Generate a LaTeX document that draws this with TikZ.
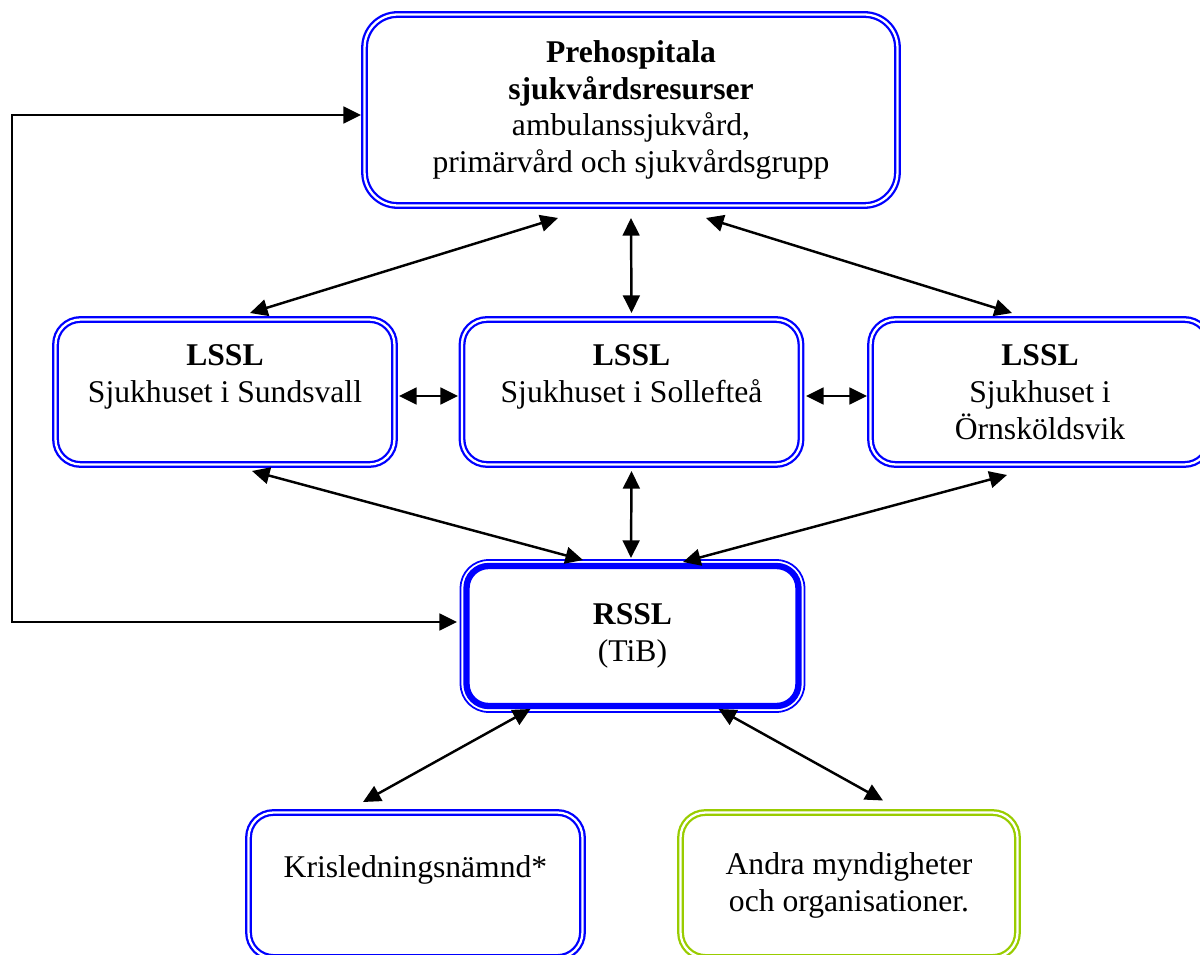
\documentclass[tikz,border=0pt]{standalone}
\usepackage{fontspec}
\setmainfont{Liberation Serif}
\usetikzlibrary{arrows.meta,calc}
\definecolor{limegreen}{RGB}{153,204,0}

\begin{document}
\begin{tikzpicture}[x=0.02cm,y=-0.02cm]
        \tikzstyle{box}=[draw=blue, double=white, line width=1.3pt, double distance=1.3pt, rounded corners=0.5cm, align=center, outer sep=0pt, font=\fontsize{18}{21}\selectfont, minimum width=6.78cm, minimum height=2.9cm]
        \tikzstyle{mainbox}=[draw=blue, line width=3.6pt, rounded corners=0.44cm, align=center, outer sep=0pt, font=\fontsize{18}{21}\selectfont, minimum width=6.64cm, minimum height=2.8cm]
        \tikzstyle{link}=[{Triangle[length=10pt,width=9.5pt]}-{Triangle[length=10pt,width=9.5pt]}, line width=1.4pt]
        \useasboundingbox (0,0) rectangle (1200,955);
        \node[box, rounded corners=0.66cm, minimum width=10.66cm, minimum height=3.82cm] (pre) at (631,110)
          {\textbf{Prehospitala}\\ \textbf{sjukvårdsresurser}\\ ambulanssjukvård,\\ primärvård och sjukvårdsgrupp};
        \node[box] (sund) at (225,392) {\textbf{LSSL}\\ Sjukhuset i Sundsvall\\ \mbox{}};
        \node[box] (soll) at (631.5,392) {\textbf{LSSL}\\ Sjukhuset i Sollefteå\\ \mbox{}};
        \node[box] (orn) at (1040,392) {\textbf{LSSL}\\ Sjukhuset i\\ Örnsköldsvik};
        \node[mainbox] (rssl) at (632.5,636) {\textbf{RSSL}\\ (TiB)};
        \draw[blue, line width=1pt, rounded corners=0.56cm] ($(rssl.north west)+(-6,-6)$) rectangle ($(rssl.south east)+(6,6)$);
        \node[box, minimum width=6.68cm] (kris) at (415.5,885) {Krisledningsnämnd*\\ \mbox{}};
        \node[box, draw=limegreen, minimum width=6.74cm] (andra) at (849,885) {Andra myndigheter\\ och organisationer.};

        \draw[link] ($(pre.south)+(-73,12.5)$) -- ($(sund.north)+(25,-6.5)$);
        \draw[link] ($(pre.south)+(0,12.5)$) -- ($(soll.north)+(0,-6.5)$);
        \draw[link] ($(pre.south)+(75,12.5)$) -- ($(orn.north)+(-28,-6.5)$);
        \draw[link] ($(sund.east)+(4.5,4)$) -- ($(soll.west)+(-4,4)$);
        \draw[link] ($(soll.east)+(5,4)$) -- ($(orn.west)+(-3.5,4)$);
        \draw[link] ($(sund.south)+(27,6.5)$) -- ($(rssl.north)+(-49.5,-6)$);
        \draw[link] ($(soll.south)+(0,6.5)$) -- ($(rssl.north)+(-1.5,-8)$);
        \draw[link] ($(orn.south)+(-33,10.5)$) -- ($(rssl.north)+(50.5,-4)$);
        \draw[link] ($(rssl.south)+(-102,3)$) -- ($(kris.north)+(-52.5,-10.5)$);
        \draw[link] ($(rssl.south)+(86,3)$) -- ($(andra.north)+(34,-12)$);

        \coordinate (fbtop) at (12,115);
        \coordinate (fbbot) at (12,622);
        \draw[link] ($(pre.west)+(-3.5,5)$) -- (fbtop) -- (fbbot) -- ($(rssl.west)+(-9.5,-14)$);
\end{tikzpicture}
\end{document}
